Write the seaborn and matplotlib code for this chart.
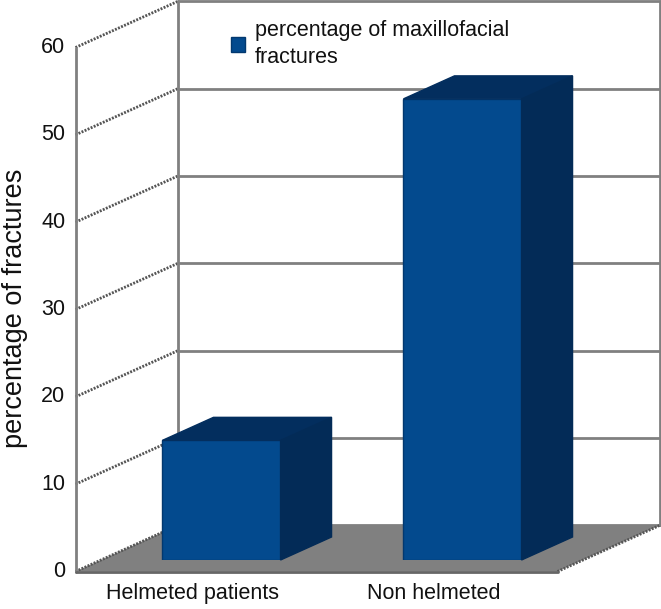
import matplotlib
matplotlib.use("Agg")
import matplotlib.pyplot as plt
import pandas as pd
import seaborn as sns

categories = ["Helmeted patients", "Non helmeted"]
values = [13.7, 52.8]
series_name = "percentage of maxillofacial\nfractures"
y_ticks = [0, 10, 20, 30, 40, 50, 60]

front_col = "#034a8e"
top_col = "#032e5e"
side_col = "#032b57"
wall_col = "#808080"

sns.set_theme(style="white")
plt.rcParams["font.family"] = ["Liberation Sans", "DejaVu Sans"]

W, H = 661, 609
fig = plt.figure(figsize=(W / 100, H / 100), dpi=100)
# axes sits on the plane of the bar fronts, everything else is offset from it
ax = fig.add_axes([101 / W, (H - 560) / H, 482 / W, 524 / H])

df = pd.DataFrame({"category": categories, "value": values})
sns.barplot(data=df, x="category", y="value", color=front_col, saturation=1,
            width=0.49, label=series_name, ax=ax, zorder=4,
            edgecolor="#02386f", linewidth=1)
ax.set_xlim(-0.5, 1.5)
ax.set_ylim(0, 60)
ax.axis("off")

# depth of the 3d box in data units
dx = 102 / 241
dy = 46 / 8.73
x0, x1 = ax.get_xlim()
ymax = max(y_ticks)


def pt(x, v, d):
    return x + d * dx, v + d * dy


def poly(points, **kw):
    ax.fill(*zip(*points), clip_on=False, **kw)


def line(a, b, **kw):
    ax.plot(*zip(a, b), clip_on=False, **kw)


# floor
poly([pt(x0, 0, -.25), pt(x1, 0, -.25), pt(x1, 0, .75), pt(x0, 0, .75)],
     color=wall_col, zorder=1, lw=0)

# walls
dots = dict(color="#555555", lw=2, ls=(0, (0.7, 0.5)), zorder=2)
grid = dict(color=wall_col, lw=2, zorder=2)
for v in y_ticks:
    line(pt(x0, v, .75), pt(x1, v, .75), **grid)
    line(pt(x0, v, -.25), pt(x0, v, .75), **dots)
line(pt(x1, 0, -.25), pt(x1, 0, .75), **dots)
line(pt(x0, 0, .75), pt(x0, ymax, .75), **grid)
line(pt(x1, 0, .75), pt(x1, ymax, .75), **grid)
line(pt(x0, 0, -.25), pt(x0, ymax, -.25), **grid)
line(pt(x0, 0, -.25), pt(x1, 0, -.25), color="#666666", lw=2, zorder=3)

# top and side faces of each bar
for bar in ax.patches[:len(values)]:
    l, r = bar.get_x(), bar.get_x() + bar.get_width()
    h = bar.get_height()
    poly([pt(l, h, 0), pt(r, h, 0), pt(r, h, .5), pt(l, h, .5)],
         color=top_col, zorder=4, lw=1)
    poly([pt(r, 0, 0), pt(r, 0, .5), pt(r, h, .5), pt(r, h, 0)],
         color=side_col, zorder=4, lw=1)

# tick texts
for v in y_ticks:
    x, y = pt(x0, v, -.25)
    ax.annotate(str(v), (x, y), xytext=(-10, 0), textcoords="offset pixels",
                ha="right", va="center", fontsize=15.5, color="#111111",
                annotation_clip=False)
for i, c in enumerate(categories):
    x, y = pt(i, 0, -.25)
    ax.annotate(c, (x, y), xytext=(-3, -22), textcoords="offset pixels",
                ha="center", va="center", fontsize=15.5, color="#111111",
                annotation_clip=False)

fig.text(15 / W, 1 - 308 / H, "percentage of fractures", rotation=90,
         ha="center", va="center", fontsize=19.5, color="#111111")

leg = ax.legend(loc="upper left", bbox_to_anchor=(227 / W, 1 - 16 / H),
                bbox_transform=fig.transFigure, frameon=False, fontsize=15.5,
                handlelength=0.65, handleheight=0.65, handletextpad=0.45,
                labelcolor="#111111", borderaxespad=0, borderpad=0.2)
for t in leg.get_texts():
    t.set_linespacing(1.35)

fig.savefig("out.png", dpi=100)
